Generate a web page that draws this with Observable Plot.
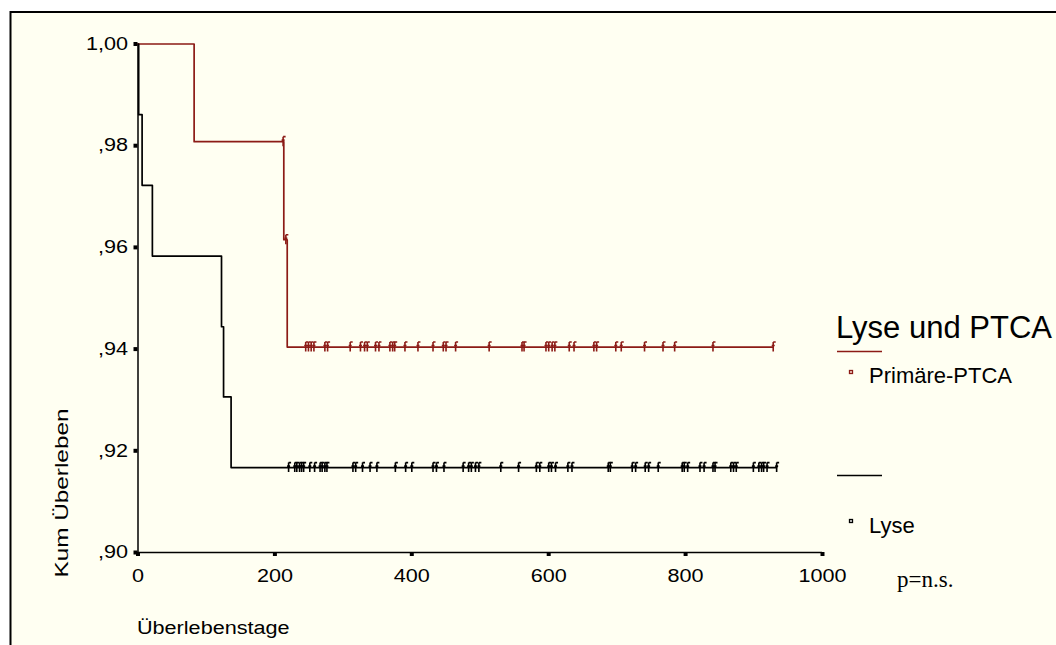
<!DOCTYPE html>
<html><head><meta charset="utf-8">
<script src="https://cdn.jsdelivr.net/npm/d3@7"></script>
<script src="https://cdn.jsdelivr.net/npm/@observablehq/plot@0.6"></script>
<style>html,body{margin:0;padding:0;background:#fff;} svg{display:block}</style>
</head><body><div id="chart"></div>
<script>
// ---- data ----
const groups = ["Primäre-PTCA", "Lyse"];
const groupColors = ["#8c1b16", "#000000"];
const legendTitle = "Lyse und PTCA";
const pText = "p=n.s.";
const yLabel = "Kum Überleben";
const xLabel = "Überlebenstage";

const ptcaStepDays = [0, 82, 213, 218, 928];
const ptcaStepSurv = [1.0, 0.9808, 0.9615, 0.9404, 0.9404];
const ptcaCensorDays = [212, 216, 245, 249, 253, 257, 273, 277, 310, 325, 331, 335, 347, 352, 368, 372, 375, 390, 409, 431, 446, 450, 464, 513, 561, 564, 596, 600, 605, 609, 630, 637, 666, 670, 698, 706, 740, 767, 784, 840, 928];

const lyseStepDays = [0, 1, 6, 21, 122, 125, 136, 933];
const lyseStepSurv = [1.0, 0.9861, 0.9722, 0.9583, 0.9444, 0.9306, 0.9167, 0.9167];
const lyseCensorDays = [220, 229, 232, 236, 239, 242, 251, 258, 266, 269, 273, 276, 314, 318, 328, 339, 349, 376, 391, 400, 431, 436, 447, 475, 483, 487, 493, 498, 530, 556, 582, 587, 600, 604, 610, 628, 634, 687, 690, 722, 727, 741, 746, 760, 795, 798, 803, 821, 827, 840, 843, 866, 870, 874, 899, 907, 911, 914, 919, 933];

const yTicks = [0.90, 0.92, 0.94, 0.96, 0.98, 1.00];
const xTicks = [0, 200, 400, 600, 800, 1000];

// ---- build tables ----
function survAt(days, surv, t) {
  let s = surv[0];
  for (let i = 0; i < days.length; i++) if (days[i] <= t) s = surv[i];
  return s;
}
const stepRows = [];
ptcaStepDays.forEach((d, i) => stepRows.push({g: groups[0], t: d, s: ptcaStepSurv[i]}));
lyseStepDays.forEach((d, i) => stepRows.push({g: groups[1], t: d, s: lyseStepSurv[i]}));
const censorRows = [];
ptcaCensorDays.forEach(d => censorRows.push({g: groups[0], t: d, s: survAt(ptcaStepDays, ptcaStepSurv, d)}));
lyseCensorDays.forEach(d => censorRows.push({g: groups[1], t: d, s: survAt(lyseStepDays, lyseStepSurv, d)}));

const censorSymbol = {
  draw(ctx) {
    ctx.moveTo(0, -5); ctx.lineTo(0, 4.5);
    ctx.moveTo(0, -5); ctx.lineTo(2.5, -5);
    ctx.moveTo(-1.5, -1.5); ctx.lineTo(1.5, -1.5);
  }
};

const fmt = d => d.toFixed(2).replace(/^0/, "").replace(".", ",");
const FONT = "Liberation Sans, Arial, sans-serif";

const chart = Plot.plot({
  width: 1056, height: 645,
  marginLeft: 137.5, marginRight: 234, marginTop: 43.5, marginBottom: 93,
  style: {background: "transparent", fontFamily: FONT},
  x: {domain: [0, 1000], axis: null},
  y: {domain: [0.9, 1.0], axis: null},
  color: {domain: groups, range: groupColors},
  marks: [
    Plot.ruleX([0], {y1: 0.9, y2: 1.0, stroke: "#000", strokeWidth: 1.5}),
    Plot.ruleY([0.9], {x1: 0, x2: 1000, stroke: "#000", strokeWidth: 1.5}),
    Plot.axisY({ticks: yTicks, tickFormat: fmt, tickSize: 4, tickPadding: 6, strokeWidth: 4, stroke: "#000",
      fontSize: 18, fill: "#000", label: null, fontFamily: FONT}),
    Plot.axisX({ticks: xTicks, tickFormat: d => String(d), tickSize: 4, tickPadding: 13, strokeWidth: 4, stroke: "#000",
      fontSize: 18, fill: "#000", label: null, fontFamily: FONT}),
    Plot.line(stepRows, {x: "t", y: "s", z: "g", stroke: "g", curve: "step-after", strokeWidth: 1.7}),
    Plot.dot(censorRows, {x: "t", y: "s", stroke: "g", symbol: censorSymbol, r: 3, strokeWidth: 1.6, fill: "none"})
  ]
});

document.getElementById("chart").appendChild(chart);
const svg = d3.select(chart);

// frame / background
svg.insert("rect", ":first-child")
  .attr("x", 10.5).attr("y", 12).attr("width", 1200).attr("height", 800)
  .attr("fill", "#fffff2").attr("stroke", "#000").attr("stroke-width", 2);

// stretch axis tick labels horizontally (reference text is wider)
const stretch = 1.2;
svg.selectAll("g[aria-label='y-axis tick label'] text, g[aria-label='x-axis tick label'] text").each(function() {
  const w = this.getComputedTextLength();
  this.setAttribute("textLength", w * stretch);
  this.setAttribute("lengthAdjust", "spacingAndGlyphs");
});

function addText(x, y, txt, opts = {}) {
  const t = svg.append("text").attr("x", x).attr("y", y).text(txt)
    .attr("font-family", opts.family || FONT).attr("font-size", opts.size || 18)
    .attr("fill", opts.fill || "#000").attr("text-anchor", opts.anchor || "start");
  if (opts.transform) t.attr("transform", opts.transform);
  if (opts.stretch) {
    const w = t.node().getComputedTextLength();
    t.attr("textLength", w * opts.stretch).attr("lengthAdjust", "spacingAndGlyphs");
  }
  return t;
}
// axis titles
addText(137, 634, xLabel, {size: 18, stretch: 1.2});
addText(0, 0, yLabel, {size: 18, stretch: 1.35, anchor: "middle", transform: "translate(68,493) rotate(-90)"});

// legend
addText(836, 338, legendTitle, {size: 31});
svg.append("line").attr("x1", 837).attr("x2", 882).attr("y1", 351.5).attr("y2", 351.5)
  .attr("stroke", groupColors[0]).attr("stroke-width", 1.6);
svg.append("rect").attr("x", 849.5).attr("y", 370.5).attr("width", 3).attr("height", 3)
  .attr("fill", "#fbe3d8").attr("stroke", groupColors[0]).attr("stroke-width", 1.3);
addText(869, 383, groups[0], {size: 22});
svg.append("line").attr("x1", 837).attr("x2", 882).attr("y1", 475.5).attr("y2", 475.5)
  .attr("stroke", groupColors[1]).attr("stroke-width", 1.6);
svg.append("rect").attr("x", 849.5).attr("y", 519.5).attr("width", 3).attr("height", 3)
  .attr("fill", "#eee", ).attr("stroke", groupColors[1]).attr("stroke-width", 1.3);
addText(869, 533, groups[1], {size: 22});

addText(897, 587, pText, {size: 23, family: "Liberation Serif, Times New Roman, serif"});
</script>
</body></html>
